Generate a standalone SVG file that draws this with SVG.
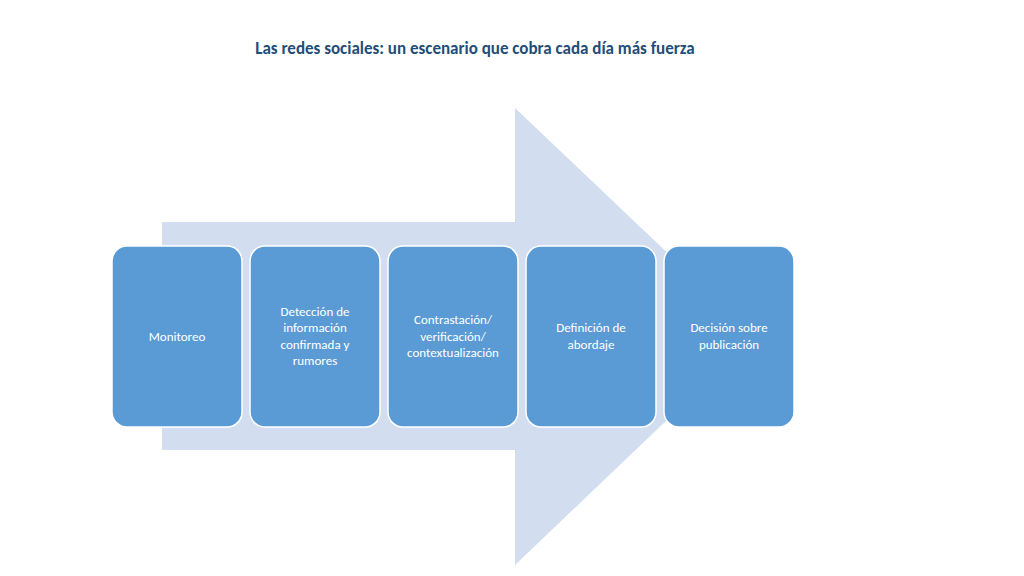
<svg xmlns="http://www.w3.org/2000/svg" width="1024" height="576" viewBox="0 0 1024 576">
<style>
.box{fill:#5b9bd5;stroke:#ffffff;stroke-width:1.5}
.t{font-family:Calibri,"Liberation Sans",sans-serif;font-size:13px;fill:#ffffff;text-anchor:middle}
.title{font-family:Calibri,"Liberation Sans",sans-serif;font-size:17px;font-weight:bold;fill:#1f4e79;text-anchor:middle}
</style>
<rect width="1024" height="576" fill="#ffffff"/>
<text class="title" x="475" y="54">Las redes sociales: un escenario que cobra cada día más fuerza</text>
<g id="connectors">
<polygon points="162,222 515,222 515,108 755,336 515,565 515,450 162,450" fill="#d2deef"/>
</g>
<g id="n1"><rect class="box" x="112" y="246" width="130" height="181" rx="15"/><text class="t" x="177" y="341">Monitoreo</text></g>
<g id="n2"><rect class="box" x="250" y="246" width="130" height="181" rx="15"/><text class="t" x="315" y="316">Detección de</text><text class="t" x="315" y="332">información</text><text class="t" x="315" y="349">confirmada y</text><text class="t" x="315" y="365">rumores</text></g>
<g id="n3"><rect class="box" x="388" y="246" width="130" height="181" rx="15"/><text class="t" x="453" y="324">Contrastación/</text><text class="t" x="453" y="341">verificación/</text><text class="t" x="453" y="357">contextualización</text></g>
<g id="n4"><rect class="box" x="526" y="246" width="130" height="181" rx="15"/><text class="t" x="591" y="332">Definición de</text><text class="t" x="591" y="349">abordaje</text></g>
<g id="n5"><rect class="box" x="664" y="246" width="130" height="181" rx="15"/><text class="t" x="729" y="332">Decisión sobre</text><text class="t" x="729" y="349">publicación</text></g>
</svg>
